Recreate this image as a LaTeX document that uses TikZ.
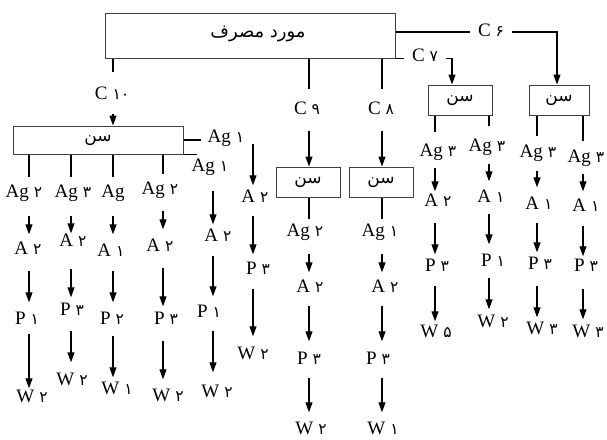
\documentclass[tikz,border=0pt]{standalone}
\usepackage{fontspec}
\setmainfont{Liberation Serif}
\newfontfamily\fa[Script=Arabic]{DejaVu Sans}
\TeXXeTstate=1
\usetikzlibrary{arrows.meta}
\newcommand\Lb[2]{#1\hspace{5pt}{\fa\fontsize{15.5}{15.5}\selectfont #2}}
\newcommand\chainarrow[5]{\draw[arr, shorten <=#4pt, shorten >=#5pt] (#2.south -| #1) -- (#3.north -| #1);}
\newcommand\stem[4]{\draw[ln, shorten >=#4pt] (#2.south -| #1) -- (#3.north -| #1);}
\tikzset{
  bx/.style={draw=black!75, line width=1pt, inner sep=0pt, font=\fa\fontsize{17}{17}\selectfont},
  lab/.style={inner sep=0pt, text height=12pt, text depth=3pt, font=\fontsize{19}{19}\selectfont},
  arr/.style={line width=1.1pt, -{Triangle[length=10pt,width=7pt]}},
  ln/.style={line width=1.1pt},
}
\begin{document}
\begin{tikzpicture}[x=1pt,y=-1pt]
\useasboundingbox (0,0) rectangle (607,439);
\fill[white] (0,0) rectangle (607,439);
% boxes
\node[bx, minimum width=290pt, minimum height=45pt] (top) at (250,35.5) {};
\node[inner sep=0pt, font=\fa\fontsize{18}{18}\selectfont] (toptxt) at (258,34) {\beginR مورد مصرف\endR};
\node[bx, minimum width=170pt, minimum height=28pt] (lbox) at (98,140) {\beginR سن\endR};
\node[bx, minimum width=64pt, minimum height=30pt] (c7box) at (460,100) {\beginR سن\endR};
\node[bx, minimum width=60pt, minimum height=30pt] (rbox) at (559,100) {\beginR سن\endR};
\node[bx, minimum width=64pt, minimum height=30pt] (m1) at (308,182) {\beginR سن\endR};
\node[bx, minimum width=64pt, minimum height=30pt] (m2) at (381,182) {\beginR سن\endR};
% connector labels
\node[lab] (c10lab) at (112,95) {\Lb{C}{۱۰}};
\node[lab] (c9lab) at (307,110) {\Lb{C}{۹}};
\node[lab] (c8lab) at (381,110) {\Lb{C}{۸}};
\node[lab] (c7lab) at (425,57) {\Lb{C}{۷}};
\node[lab] (c6lab) at (491,32) {\Lb{C}{۶}};
% column x positions
\coordinate (x1) at (29,0);
\coordinate (x2) at (71,0);
\coordinate (x3) at (113,0);
\coordinate (x4) at (163,0);
\coordinate (x5) at (213,0);
\coordinate (x6) at (253,0);
\coordinate (xm1) at (309,0);
\coordinate (xm2) at (382,0);
\coordinate (xr1) at (435,0);
\coordinate (xr2) at (489,0);
\coordinate (xr3) at (537,0);
\coordinate (xr4) at (583,0);
\coordinate (c7x) at (452,0);
\coordinate (c6x) at (557,0);
% labels
\node[lab] (l1a) at (24,193) {\Lb{Ag}{۲}};
\node[lab] (l1b) at (28,250) {\Lb{A}{۲}};
\node[lab] (l1c) at (27,320) {\Lb{P}{۱}};
\node[lab] (l1d) at (32,398) {\Lb{W}{۲}};
\node[lab] (l2a) at (73,193) {\Lb{Ag}{۳}};
\node[lab] (l2b) at (73,242) {\Lb{A}{۲}};
\node[lab] (l2c) at (72,311) {\Lb{P}{۳}};
\node[lab] (l2d) at (72,381) {\Lb{W}{۲}};
\node[lab] (l3a) at (113,193) {Ag};
\node[lab] (l3b) at (111,252) {\Lb{A}{۱}};
\node[lab] (l3c) at (112,320) {\Lb{P}{۲}};
\node[lab] (l3d) at (117,390) {\Lb{W}{۱}};
\node[lab] (l4a) at (160,190) {\Lb{Ag}{۲}};
\node[lab] (l4b) at (160,247) {\Lb{A}{۲}};
\node[lab] (l4c) at (166,320) {\Lb{P}{۳}};
\node[lab] (l4d) at (168,397) {\Lb{W}{۲}};
\node[lab] (agl) at (210,167) {\Lb{Ag}{۱}};
\node[lab] (l5b) at (218,237) {\Lb{A}{۲}};
\node[lab] (l5c) at (209,313) {\Lb{P}{۱}};
\node[lab] (l5d) at (217,393) {\Lb{W}{۲}};
\node[lab] (agu) at (226,138) {\Lb{Ag}{۱}};
\node[lab] (l6b) at (255,198) {\Lb{A}{۲}};
\node[lab] (l6c) at (258,270) {\Lb{P}{۳}};
\node[lab] (l6d) at (253,355) {\Lb{W}{۲}};
\node[lab] (m1a) at (305,232) {\Lb{Ag}{۲}};
\node[lab] (m1b) at (310,288) {\Lb{A}{۲}};
\node[lab] (m1c) at (309,360) {\Lb{P}{۳}};
\node[lab] (m1d) at (311,430) {\Lb{W}{۲}};
\node[lab] (m2a) at (380,232) {\Lb{Ag}{۱}};
\node[lab] (m2b) at (385,288) {\Lb{A}{۲}};
\node[lab] (m2c) at (378,360) {\Lb{P}{۳}};
\node[lab] (m2d) at (383,430) {\Lb{W}{۱}};
\node[lab] (r1a) at (438,152) {\Lb{Ag}{۳}};
\node[lab] (r1b) at (438,202) {\Lb{A}{۲}};
\node[lab] (r1c) at (437,267) {\Lb{P}{۳}};
\node[lab] (r1d) at (436,333) {\Lb{W}{۵}};
\node[lab] (r2a) at (487,147) {\Lb{Ag}{۳}};
\node[lab] (r2b) at (491,198) {\Lb{A}{۱}};
\node[lab] (r2c) at (493,262) {\Lb{P}{۱}};
\node[lab] (r2d) at (493,323) {\Lb{W}{۲}};
\node[lab] (r3a) at (538,153) {\Lb{Ag}{۳}};
\node[lab] (r3b) at (539,205) {\Lb{A}{۱}};
\node[lab] (r3c) at (540,265) {\Lb{P}{۳}};
\node[lab] (r3d) at (542,330) {\Lb{W}{۳}};
\node[lab] (r4a) at (586,158) {\Lb{Ag}{۳}};
\node[lab] (r4b) at (586,207) {\Lb{A}{۱}};
\node[lab] (r4c) at (586,267) {\Lb{P}{۳}};
\node[lab] (r4d) at (588,333) {\Lb{W}{۳}};
% top connectors
\draw[ln, shorten >=15pt] (top.south -| x3) -- (c10lab.north -| x3);
\draw[arr, shorten <=11pt] (c10lab.south -| x3) -- (lbox.north -| x3);
\draw[ln, shorten >=13pt] (top.south -| xm1) -- (c9lab.north -| xm1);
\draw[arr, shorten <=13pt] (c9lab.south -| xm1) -- (m1.north -| xm1);
\draw[ln, shorten >=13pt] (top.south -| xm2) -- (c8lab.north -| xm2);
\draw[arr, shorten <=13pt] (c8lab.south -| xm2) -- (m2.north -| xm2);
\draw[ln, shorten >=8pt] (top.south east) -- (top.south east -| c7lab.west);
\draw[arr, shorten <=8pt] (c7lab.east |- top.south) -- (c7x |- top.south) -- (c7x |- c7box.north);
\draw[ln, shorten >=8pt] (top.east |- c6lab) -- (c6lab.west);
\draw[arr, shorten <=8pt] (c6lab.east) -- (c6lab.east -| c6x) -- (c6x |- rbox.north);
% left box side stubs
\draw[ln, shorten >=7pt] (lbox.east) -- (lbox.east -| agu.west);
\draw[ln, shorten >=-5pt] (lbox.south east) -- (lbox.south east -| agl.west);
% stems from boxes
\stem{x1}{lbox}{l1a}{8}
\stem{x2}{lbox}{l2a}{8}
\stem{x3}{lbox}{l3a}{8}
\stem{x4}{lbox}{l4a}{8}
\stem{xm1}{m1}{m1a}{5}
\stem{xm2}{m2}{m2a}{5}
\stem{xr1}{c7box}{r1a}{12}
\stem{xr2}{c7box}{r2a}{13}
\stem{xr3}{rbox}{r3a}{9}
\stem{xr4}{rbox}{r4a}{9}
% chains
\chainarrow{x1}{l1a}{l1b}{15}{8}
\chainarrow{x1}{l1b}{l1c}{13}{10}
\chainarrow{x1}{l1c}{l1d}{6}{2}
\chainarrow{x2}{l2a}{l2b}{15}{1}
\chainarrow{x2}{l2b}{l2c}{19}{6}
\chainarrow{x2}{l2c}{l2d}{12}{11}
\chainarrow{x3}{l3a}{l3b}{15}{10}
\chainarrow{x3}{l3b}{l3c}{11}{10}
\chainarrow{x3}{l3c}{l3d}{8}{5}
\chainarrow{x4}{l4a}{l4b}{13}{10}
\chainarrow{x4}{l4b}{l4c}{13}{6}
\chainarrow{x4}{l4c}{l4d}{13}{10}
\chainarrow{x5}{agl}{l5b}{16}{5}
\chainarrow{x5}{l5b}{l5c}{11}{9}
\chainarrow{x5}{l5c}{l5d}{10}{13}
\chainarrow{x6}{agu}{l6b}{-2}{5}
\chainarrow{x6}{l6b}{l6c}{10}{8}
\chainarrow{x6}{l6c}{l6d}{11}{11}
\chainarrow{xm1}{m1a}{m1b}{14}{8}
\chainarrow{xm1}{m1b}{m1c}{10}{11}
\chainarrow{xm1}{m1c}{m1d}{10}{10}
\chainarrow{xm2}{m2a}{m2b}{14}{8}
\chainarrow{xm2}{m2b}{m2c}{10}{11}
\chainarrow{xm2}{m2c}{m2d}{10}{10}
\chainarrow{xr1}{r1a}{r1b}{8}{3}
\chainarrow{xr1}{r1b}{r1c}{13}{5}
\chainarrow{xr1}{r1c}{r1d}{11}{4}
\chainarrow{xr2}{r2a}{r2b}{9}{9}
\chainarrow{xr2}{r2b}{r2c}{8}{10}
\chainarrow{xr2}{r2c}{r2d}{8}{6}
\chainarrow{xr3}{r3a}{r3b}{10}{10}
\chainarrow{xr3}{r3b}{r3c}{10}{5}
\chainarrow{xr3}{r3c}{r3d}{13}{5}
\chainarrow{xr4}{r4a}{r4b}{8}{8}
\chainarrow{xr4}{r4b}{r4c}{11}{3}
\chainarrow{xr4}{r4c}{r4d}{14}{6}
\end{tikzpicture}
\end{document}
